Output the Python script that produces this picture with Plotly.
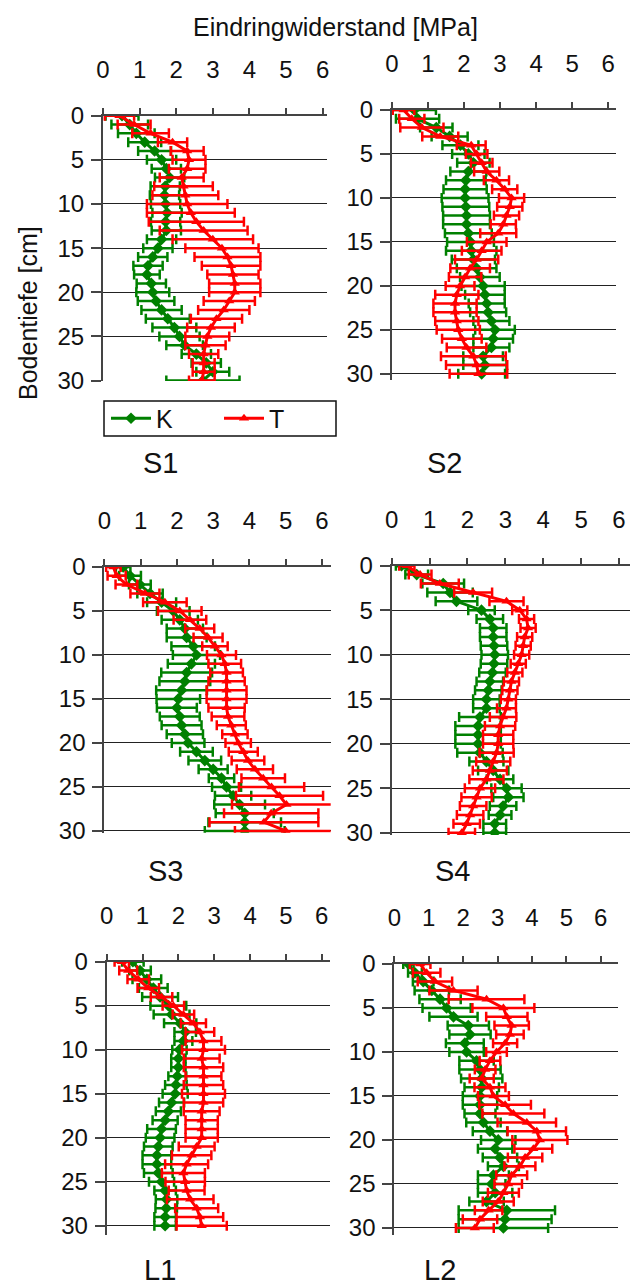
import plotly.graph_objects as go

# ---------------- data ----------------
depth = list(range(0, 31))  # Bodentiefe [cm]

# S1
s1_k = [0.52, 0.73, 0.91, 1.14, 1.41, 1.60, 1.73, 1.82, 1.70, 1.68, 1.71, 1.75, 1.71, 1.73, 1.60, 1.50,
        1.36, 1.23, 1.20, 1.32, 1.36, 1.45, 1.60, 1.77, 1.95, 2.09, 2.23, 2.55, 2.82, 3.00, 2.73]
s1_k_err = [0.45, 0.5, 0.5, 0.45, 0.45, 0.4, 0.4, 0.4, 0.4, 0.4, 0.4, 0.4, 0.4, 0.4, 0.4, 0.4,
            0.4, 0.4, 0.35, 0.4, 0.45, 0.5, 0.55, 0.6, 0.6, 0.55, 0.5, 0.4, 0.4, 0.45, 1.0]
s1_t = [0.45, 0.85, 1.30, 1.90, 2.30, 2.35, 2.30, 2.15, 2.20, 2.25, 2.30, 2.40, 2.55, 2.75, 3.00, 3.25,
        3.40, 3.50, 3.55, 3.60, 3.60, 3.45, 3.30, 3.10, 2.95, 2.85, 2.80, 2.75, 2.75, 2.75, 2.70]
s1_t_err = [0.4, 0.45, 0.5, 0.4, 0.45, 0.45, 0.5, 0.6, 0.8, 0.9, 1.1, 1.2, 1.3, 1.2, 1.1, 1.0,
            0.9, 0.8, 0.7, 0.7, 0.7, 0.7, 0.7, 0.7, 0.65, 0.6, 0.55, 0.4, 0.3, 0.3, 0.35]

# S2
s2_k = [0.62, 0.71, 1.23, 1.60, 1.90, 2.12, 2.26, 2.12, 2.05, 2.03, 2.03, 2.05, 2.07, 2.07, 2.12, 2.18,
        2.20, 2.26, 2.35, 2.44, 2.53, 2.58, 2.63, 2.67, 2.76, 2.86, 2.81, 2.76, 2.53, 2.58, 2.49]
s2_k_err = [0.6, 0.6, 0.45, 0.5, 0.5, 0.45, 0.45, 0.5, 0.55, 0.6, 0.65, 0.65, 0.65, 0.65, 0.65, 0.65,
            0.7, 0.6, 0.55, 0.55, 0.6, 0.55, 0.5, 0.5, 0.5, 0.55, 0.55, 0.5, 0.55, 0.6, 0.65]
s2_t = [0.32, 0.55, 0.83, 1.34, 2.20, 2.35, 2.49, 2.63, 2.90, 3.13, 3.32, 3.27, 3.18, 3.09, 2.95, 2.63,
        2.49, 2.35, 2.17, 2.03, 1.89, 1.80, 1.75, 1.75, 1.80, 1.84, 1.94, 2.07, 2.26, 2.35, 2.40]
s2_t_err = [0.3, 0.35, 0.6, 0.5, 0.4, 0.3, 0.3, 0.35, 0.35, 0.35, 0.35, 0.35, 0.35, 0.35, 0.5, 0.55,
            0.55, 0.6, 0.55, 0.45, 0.4, 0.6, 0.6, 0.6, 0.6, 0.6, 0.55, 0.55, 0.9, 0.85, 0.8]

# S3
s3_k = [0.52, 0.71, 0.98, 1.26, 1.58, 1.90, 2.08, 2.22, 2.27, 2.45, 2.54, 2.40, 2.27, 2.22, 2.13, 2.04,
        2.00, 2.08, 2.13, 2.22, 2.31, 2.54, 2.77, 3.00, 3.23, 3.37, 3.55, 3.73, 3.87, 3.87, 3.87]
s3_k_err = [0.2, 0.3, 0.3, 0.35, 0.4, 0.45, 0.5, 0.5, 0.55, 0.6, 0.65, 0.65, 0.7, 0.7, 0.7, 0.6,
            0.55, 0.55, 0.55, 0.5, 0.45, 0.45, 0.45, 0.4, 0.35, 0.4, 0.5, 0.7, 0.8, 1.0, 1.1]
s3_t = [0.25, 0.34, 0.61, 1.12, 1.67, 2.08, 2.36, 2.63, 2.86, 3.05, 3.23, 3.32, 3.37, 3.37, 3.37, 3.37,
        3.37, 3.41, 3.50, 3.60, 3.69, 3.83, 3.96, 4.15, 4.38, 4.61, 4.83, 5.02, 4.60, 4.40, 5.00]
s3_t_err = [0.2, 0.25, 0.3, 0.4, 0.6, 0.6, 0.45, 0.4, 0.4, 0.35, 0.4, 0.45, 0.45, 0.5, 0.55, 0.55,
            0.5, 0.45, 0.4, 0.35, 0.35, 0.4, 0.45, 0.5, 0.6, 0.9, 1.2, 1.5, 1.3, 1.5, 1.4]

# S4
s4_k = [0.26, 0.66, 1.36, 1.54, 1.71, 2.37, 2.59, 2.68, 2.68, 2.70, 2.72, 2.70, 2.66, 2.59, 2.55, 2.50,
        2.50, 2.33, 2.28, 2.28, 2.28, 2.33, 2.50, 2.68, 2.86, 3.03, 3.08, 2.94, 2.86, 2.72, 2.72]
s4_k_err = [0.15, 0.3, 0.55, 0.6, 0.55, 0.35, 0.35, 0.35, 0.35, 0.35, 0.35, 0.35, 0.35, 0.35, 0.35, 0.35,
            0.35, 0.55, 0.6, 0.6, 0.6, 0.6, 0.45, 0.4, 0.35, 0.4, 0.4, 0.35, 0.3, 0.3, 0.3]
s4_t = [0.40, 0.75, 1.27, 2.15, 3.03, 3.38, 3.56, 3.60, 3.51, 3.47, 3.43, 3.34, 3.25, 3.16, 3.12, 3.08,
        3.03, 2.94, 2.86, 2.81, 2.81, 2.77, 2.68, 2.59, 2.50, 2.33, 2.24, 2.15, 2.07, 1.98, 1.85]
s4_t_err = [0.2, 0.3, 0.5, 0.5, 0.45, 0.2, 0.2, 0.2, 0.2, 0.2, 0.2, 0.2, 0.2, 0.2, 0.2, 0.2,
            0.25, 0.35, 0.4, 0.4, 0.4, 0.45, 0.45, 0.45, 0.45, 0.4, 0.4, 0.35, 0.35, 0.35, 0.35]

# L1
l1_k = [0.73, 0.93, 1.12, 1.30, 1.49, 1.72, 1.81, 2.05, 2.19, 2.14, 2.03, 2.00, 2.00, 1.97, 1.93, 1.91,
        1.81, 1.72, 1.63, 1.53, 1.49, 1.44, 1.40, 1.40, 1.44, 1.53, 1.63, 1.67, 1.66, 1.63, 1.63]
l1_k_err = [0.3, 0.3, 0.4, 0.4, 0.5, 0.5, 0.5, 0.45, 0.3, 0.25, 0.2, 0.2, 0.2, 0.25, 0.3, 0.35,
            0.35, 0.35, 0.35, 0.4, 0.4, 0.4, 0.4, 0.4, 0.4, 0.35, 0.3, 0.3, 0.3, 0.3, 0.3]
l1_t = [0.42, 0.60, 0.88, 1.16, 1.53, 1.86, 2.14, 2.42, 2.60, 2.70, 2.70, 2.65, 2.70, 2.70, 2.70, 2.70,
        2.70, 2.65, 2.65, 2.65, 2.65, 2.51, 2.37, 2.23, 2.14, 2.19, 2.23, 2.33, 2.51, 2.60, 2.65]
l1_t_err = [0.2, 0.25, 0.3, 0.3, 0.3, 0.3, 0.3, 0.35, 0.4, 0.5, 0.6, 0.5, 0.55, 0.5, 0.55, 0.6,
            0.55, 0.5, 0.45, 0.45, 0.45, 0.5, 0.55, 0.6, 0.6, 0.55, 0.5, 0.65, 0.6, 0.65, 0.7]

# L2
l2_k = [0.41, 0.60, 0.84, 1.09, 1.33, 1.52, 1.72, 2.15, 2.20, 2.05, 2.10, 2.39, 2.49, 2.54, 2.54, 2.49,
        2.49, 2.49, 2.59, 2.78, 3.02, 2.93, 3.07, 3.17, 2.88, 2.83, 2.93, 2.68, 3.27, 3.22, 3.17]
l2_k_err = [0.15, 0.2, 0.3, 0.5, 0.6, 0.7, 0.7, 0.6, 0.6, 0.55, 0.5, 0.5, 0.6, 0.6, 0.5, 0.5,
            0.5, 0.45, 0.5, 0.5, 0.5, 0.5, 0.5, 0.45, 0.45, 0.4, 0.5, 0.5, 1.4, 1.35, 1.3]
l2_t = [0.75, 0.94, 1.18, 1.72, 2.68, 3.17, 3.27, 3.41, 3.36, 3.22, 2.97, 2.78, 2.64, 2.54, 2.78, 2.88,
        3.22, 3.46, 3.85, 4.14, 4.23, 4.04, 3.80, 3.65, 3.41, 3.31, 3.17, 3.02, 2.74, 2.49, 2.34]
l2_t_err = [0.3, 0.4, 0.5, 0.7, 1.1, 0.9, 0.6, 0.5, 0.4, 0.35, 0.3, 0.3, 0.3, 0.35, 0.45, 0.45,
            0.75, 0.9, 0.85, 0.85, 0.8, 0.55, 0.5, 0.45, 0.45, 0.4, 0.45, 0.45, 0.4, 0.5, 0.55]

panel_names = ["S1", "S2", "S3", "S4", "L1", "L2"]
k_series = [s1_k, s2_k, s3_k, s4_k, l1_k, l2_k]
k_errors = [s1_k_err, s2_k_err, s3_k_err, s4_k_err, l1_k_err, l2_k_err]
t_series = [s1_t, s2_t, s3_t, s4_t, l1_t, l2_t]
t_errors = [s1_t_err, s2_t_err, s3_t_err, s4_t_err, l1_t_err, l2_t_err]
x_ticks = [0, 1, 2, 3, 4, 5, 6]
y_ticks = [0, 5, 10, 15, 20, 25, 30]

# ---------------- layout geometry (pixels) ----------------
W, H = 641, 1286
# (left, right, top, bottom) in px, x-range max, y-range max
panels = [
    (103, 327, 115.7, 381, 6.12, 30.05),
    (392, 616, 110, 380, 6.22, 30.7),
    (104.3, 330.7, 567, 832.7, 6.24, 30.2),
    (391.7, 630, 565.7, 835, 6.29, 30.25),
    (106.7, 330, 961.7, 1235, 6.23, 31.05),
    (394.3, 618, 964, 1235, 6.5, 30.8),
]
title_pos = [(160, 463), (444, 463), (165, 871), (452, 871), (160, 1270), (440, 1270)]

GREEN = "#008000"
RED = "#FF0000"
FONT = "Arial, Liberation Sans, sans-serif"
TICK_FONT = dict(size=24, family=FONT, color="#111")

fig = go.Figure()
layout = dict(
    width=W, height=H, margin=dict(l=0, r=0, t=0, b=0, autoexpand=False),
    paper_bgcolor="white", plot_bgcolor="white",
    font=dict(family=FONT, color="#111111", size=22),
    showlegend=True,
    annotations=[],
    shapes=[],
)

for i, name in enumerate(panel_names):
    l, r, t, b, xmax, ymax = panels[i]
    ax = "" if i == 0 else str(i + 1)
    xref = "x" + ax
    yref = "y" + ax
    fig.add_trace(go.Scatter(
        x=k_series[i], y=depth, xaxis=xref, yaxis=yref, name="K",
        mode="lines+markers", showlegend=(i == 0), legendgroup="K",
        line=dict(color=GREEN, width=3),
        marker=dict(symbol="diamond", size=9, color=GREEN),
        error_x=dict(type="data", array=k_errors[i], color=GREEN, thickness=2.5, width=5),
    ))
    fig.add_trace(go.Scatter(
        x=t_series[i], y=depth, xaxis=xref, yaxis=yref, name="T",
        mode="lines+markers", showlegend=(i == 0), legendgroup="T",
        line=dict(color=RED, width=3),
        marker=dict(symbol="triangle-up", size=9, color=RED),
        error_x=dict(type="data", array=t_errors[i], color=RED, thickness=2.5, width=5),
    ))
    layout["xaxis" + ax] = dict(
        domain=[l / W, r / W], anchor=yref, side="top", range=[0, xmax],
        tickvals=x_ticks, ticks="outside", ticklen=6, tickwidth=1.5, tickcolor="#444",
        showline=True, linewidth=2, linecolor="#444", showgrid=False, zeroline=False,
        ticklabelstandoff=20, tickfont=TICK_FONT,
    )
    layout["yaxis" + ax] = dict(
        domain=[1 - b / H, 1 - t / H], anchor=xref, range=[ymax, 0],
        tickvals=y_ticks, ticks="outside", ticklen=10, tickwidth=1.5, tickcolor="#444",
        showline=True, linewidth=2, linecolor="#444", showgrid=True, gridcolor="#222",
        gridwidth=1, zeroline=False, ticklabelstandoff=2,
        tickfont=TICK_FONT,
    )
    tx, ty = title_pos[i]
    layout["annotations"].append(dict(
        text=name, x=tx / W, y=1 - ty / H, xref="paper", yref="paper",
        showarrow=False, font=dict(size=29, family=FONT, color="#111"),
        xanchor="center", yanchor="middle",
    ))

layout["annotations"].append(dict(
    text="Eindringwiderstand [MPa]", x=335 / W, y=1 - 27 / H, xref="paper", yref="paper",
    showarrow=False, font=dict(size=25, family=FONT, color="#111"),
    xanchor="center", yanchor="middle",
))
layout["annotations"].append(dict(
    text="Bodentiefe [cm]", x=28 / W, y=1 - 313 / H, xref="paper", yref="paper",
    showarrow=False, textangle=-90, font=dict(size=25, family=FONT, color="#111"),
    xanchor="center", yanchor="middle",
))
# legend frame
layout["shapes"].append(dict(
    type="rect", xref="paper", yref="paper",
    x0=104 / W, x1=336 / W, y0=1 - 436 / H, y1=1 - 401 / H,
    line=dict(color="#111", width=1.5), fillcolor="rgba(0,0,0,0)",
))
layout["legend"] = dict(
    orientation="h", x=106 / W, y=1 - 418.5 / H, xanchor="left", yanchor="middle",
    borderwidth=0, bgcolor="rgba(0,0,0,0)",
    font=dict(size=25, family=FONT, color="#111"),
    entrywidth=58, entrywidthmode="pixels", itemwidth=40,
)

fig.update_layout(**layout)
fig.write_html(
    "out.html",
    config={"displayModeBar": False},
    post_script="document.body.style.margin='0px';document.body.style.padding='0px';",
)
